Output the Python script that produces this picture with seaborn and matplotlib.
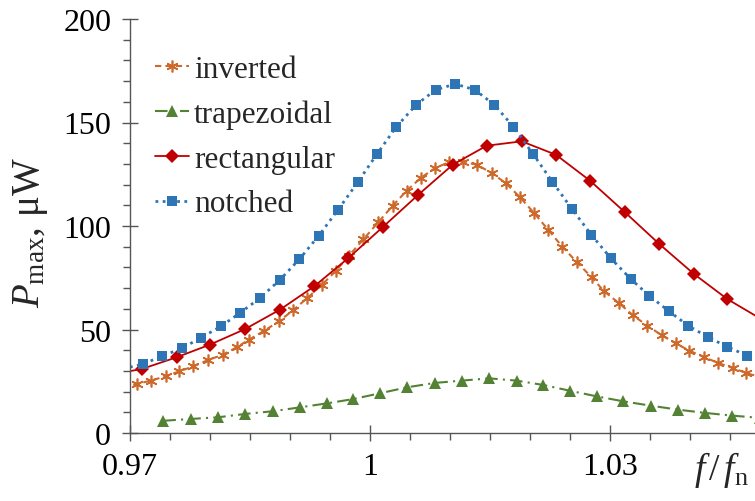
import matplotlib
matplotlib.use("Agg")
import matplotlib.pyplot as plt
import seaborn as sns
from matplotlib.ticker import MultipleLocator, FixedLocator

# ---- data (f/fn, Pmax in uW) ----
inv_x = [0.96912, 0.97092, 0.97259, 0.97446, 0.97617, 0.97792, 0.97979, 0.98159,
         0.98334, 0.98488, 0.98679, 0.98863, 0.99041, 0.99216, 0.99396, 0.99575,
         0.99738, 0.99916, 1.00100, 1.00284, 1.00459, 1.00634, 1.00813, 1.00988,
         1.01166, 1.01341, 1.01521, 1.01700, 1.01875, 1.02050, 1.02229, 1.02404,
         1.02584, 1.02771, 1.02925, 1.03113, 1.03284, 1.03466, 1.03646, 1.03821,
         1.03991, 1.04179, 1.04354, 1.04534, 1.04700, 1.04875]
inv_y = [22.3, 23.7, 25.3, 27.4, 29.8, 32.2, 35.3, 37.8,
         41.4, 45.1, 49.4, 54.0, 59.4, 65.2, 71.5, 78.4,
         85.7, 93.5, 101.7, 109.8, 117.1, 123.2, 128.0, 130.8,
         131.1, 129.5, 125.6, 120.6, 113.9, 106.3, 98.1, 90.0,
         82.6, 75.2, 68.5, 62.7, 57.0, 51.8, 47.3, 43.3,
         39.8, 36.6, 33.8, 31.4, 29.0, 27.0]

trap_x = [0.97417, 0.97763, 0.98104, 0.98438, 0.98784, 0.99125, 0.99459, 0.99791,
          1.00125, 1.00466, 1.00813, 1.01146, 1.01491, 1.01834, 1.02166, 1.02500,
          1.02834, 1.03166, 1.03509, 1.03846, 1.04188, 1.04529, 1.04871]
trap_y = [5.9, 6.8, 7.6, 9.2, 10.5, 12.4, 14.3, 16.4,
          19.2, 22.1, 24.2, 25.3, 26.4, 25.3, 23.2, 20.4,
          17.7, 15.3, 13.2, 11.3, 9.7, 8.4, 7.3]

rect_x = [0.96719, 0.97146, 0.97584, 0.98000, 0.98438, 0.98875, 0.99304, 0.99729,
          1.00166, 1.00604, 1.01034, 1.01459, 1.01896, 1.02325, 1.02750, 1.03188,
          1.03616, 1.04050, 1.04466, 1.04896]
rect_y = [28.0, 30.9, 36.6, 42.7, 50.2, 59.6, 70.9, 84.5,
          99.7, 115.1, 129.6, 138.8, 140.9, 134.4, 121.9, 106.6,
          91.3, 76.8, 64.7, 54.9]

notch_x = [0.96911, 0.97159, 0.97404, 0.97654, 0.97888, 0.98134, 0.98375, 0.98625,
           0.98871, 0.99116, 0.99359, 0.99600, 0.99846, 1.00088, 1.00325, 1.00575,
           1.00821, 1.01066, 1.01309, 1.01554, 1.01791, 1.02038, 1.02279, 1.02525,
           1.02766, 1.03013, 1.03259, 1.03491, 1.03738, 1.03979, 1.04229, 1.04466,
           1.04716]
notch_y = [31.0, 33.3, 37.1, 41.1, 46.0, 51.5, 58.0, 65.2,
           73.9, 83.9, 95.3, 107.8, 121.1, 134.8, 147.7, 158.5,
           165.8, 168.6, 165.8, 158.6, 148.0, 134.8, 121.4, 108.2,
           95.8, 84.3, 74.4, 66.3, 58.8, 51.8, 46.2, 41.7,
           37.3]

xticks = [0.97, 1.00, 1.03]
xtick_labels = ["0.97", "1", "1.03"]

sns.set_theme(style="ticks")
plt.rcParams["font.family"] = ["Liberation Serif", "DejaVu Serif"]
plt.rcParams["mathtext.fontset"] = "custom"
plt.rcParams["mathtext.rm"] = "Liberation Serif"
plt.rcParams["mathtext.it"] = "Liberation Serif:italic"

fig = plt.figure(figsize=(7.55, 5.02), dpi=100)
ax = fig.add_axes([130 / 755, 1 - 434 / 502, 625 / 755, 414 / 502])

c_inv = "#CD6A2B"
c_trap = "#548235"
c_rect = "#C00000"
c_notch = "#2E75B6"

sns.lineplot(x=inv_x, y=inv_y, ax=ax, color=c_inv, label="inverted",
             linestyle=(0, (3, 2)), linewidth=1.5, marker=(6, 2, 0),
             markersize=8.5, markeredgewidth=1.2, markeredgecolor=c_inv)
sns.lineplot(x=trap_x, y=trap_y, ax=ax, color=c_trap, label="trapezoidal",
             linestyle=(0, (6, 2.5, 1, 2.5)), linewidth=1.5, marker="^",
             markersize=8, markeredgewidth=0, markeredgecolor=c_trap)
sns.lineplot(x=rect_x, y=rect_y, ax=ax, color=c_rect, label="rectangular",
             linestyle="-", linewidth=1.3, marker="D",
             markersize=7, markeredgewidth=0, markeredgecolor=c_rect)
sns.lineplot(x=notch_x, y=notch_y, ax=ax, color=c_notch, label="notched",
             linestyle=(0, (1, 1.6)), linewidth=2, marker="s",
             markersize=7.5, markeredgewidth=0, markeredgecolor=c_notch)

ax.set_xlim(0.97, 1.048125)
ax.set_ylim(0, 200)

ax.xaxis.set_major_locator(FixedLocator(xticks))
ax.set_xticklabels(xtick_labels)
ax.xaxis.set_minor_locator(MultipleLocator(0.005))
ax.yaxis.set_major_locator(MultipleLocator(50))
ax.yaxis.set_minor_locator(MultipleLocator(10))

sns.despine(ax=ax)
for s in ("left", "bottom"):
    ax.spines[s].set_color("#555555")
    ax.spines[s].set_linewidth(1.0)

ax.tick_params(which="major", direction="inout", length=11, width=1.0,
               color="#555555", labelsize=23, labelcolor="black")
ax.tick_params(which="minor", direction="out", length=5, width=1.0,
               color="#555555")
ax.tick_params(axis="x", which="major", pad=8)
ax.tick_params(axis="y", which="major", pad=8)

ax.set_xlabel("")
ax.set_ylabel(r"$P_{\mathrm{max}}$, μW", fontsize=28)
ax.yaxis.set_label_coords(-0.128, 0.487)
ax.text(0.946, -0.111, r"$f\,/\,f_{\mathrm{n}}$", transform=ax.transAxes,
        ha="center", va="baseline", fontsize=27)

ax.legend(loc="upper left", bbox_to_anchor=(0.02, 0.943), frameon=False,
          fontsize=22.5, handlelength=1.1, handletextpad=0.15,
          labelspacing=0.5, borderaxespad=0)

fig.savefig("out.png", dpi=100)
